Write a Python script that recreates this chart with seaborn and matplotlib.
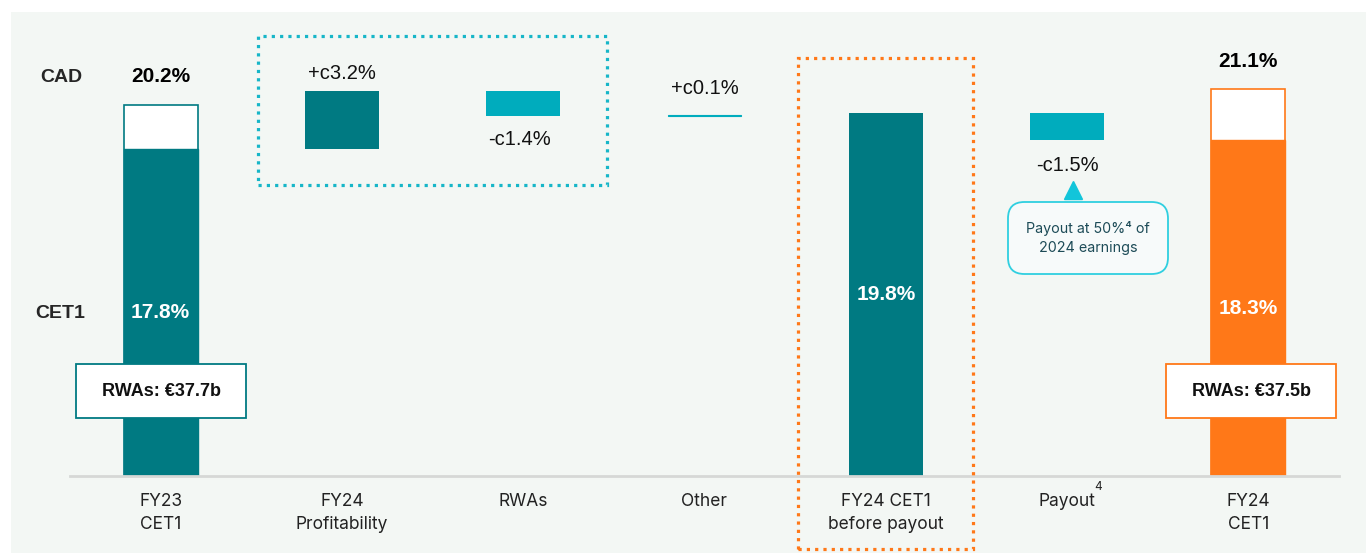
import matplotlib
matplotlib.use("Agg")
import matplotlib.pyplot as plt
from matplotlib.patches import Rectangle, FancyBboxPatch
import seaborn as sns
import pandas as pd

# ---------------- data ----------------
categories = ["FY23\nCET1", "FY24\nProfitability", "RWAs", "Other",
              "FY24 CET1\nbefore payout", "Payout", "FY24\nCET1"]
cet1_start = 17.8
cad_start = 20.2
profitability = 3.2
rwa_change = -1.4
other_change = 0.1
cet1_before_payout = 19.8
payout = -1.5
cet1_end = 18.3
cad_end = 21.1
rwas_start = 37.7
rwas_end = 37.5
change_labels = ["+c3.2%", "-c1.4%", "+c0.1%", "-c1.5%"]

# ---------------- style ----------------
TEAL = "#007a82"
CYAN = "#00acbd"
ORANGE = "#ff7818"
BG = "#f3f7f4"
BOX_CYAN = "#16b6c8"

sns.set_theme(style="white")
plt.rcParams["font.family"] = ["Liberation Sans", "DejaVu Sans"]

W, H = 1366, 553
fig = plt.figure(figsize=(W / 100, H / 100), dpi=100)
fig.patch.set_facecolor("white")


def P(x, y):
    return (x / W, 1 - y / H)


# panel background
fig.patches.append(Rectangle(P(11, 553), (W - 11) / W, (553 - 12) / H,
                             transform=fig.transFigure, facecolor=BG,
                             edgecolor="none", zorder=-10))

ax = fig.add_axes([70 / W, (553 - 476) / H, 1269 / W, 464 / H])
ax.set_facecolor("none")

BW = 0.408


def bar(i, bottom, height, **kw):
    d = pd.DataFrame({"cat": [categories[i]], "h": [height]})
    sns.barplot(data=d, x="cat", y="h", order=categories, bottom=bottom,
                width=BW, ax=ax, **kw)


# FY23: CAD outline + CET1 fill
bar(0, 0, cad_start, color="white", edgecolor=TEAL, linewidth=1.2, saturation=1)
bar(0, 0, cet1_start, color=TEAL, edgecolor=TEAL, linewidth=1.0, saturation=1)
# walk
lvl1 = cet1_start + profitability
bar(1, cet1_start, profitability, color=TEAL, saturation=1, linewidth=0)
lvl2 = lvl1 + rwa_change
bar(2, lvl2, -rwa_change, color=CYAN, saturation=1, linewidth=0)
bar(3, lvl2, other_change, color=TEAL, edgecolor=CYAN, linewidth=0.8, saturation=1)
bar(4, 0, cet1_before_payout, color=TEAL, saturation=1, linewidth=0)
bar(5, cet1_before_payout + payout, -payout, color=CYAN, saturation=1, linewidth=0)
bar(6, 0, cad_end, color="white", edgecolor=ORANGE, linewidth=1.2, saturation=1)
bar(6, 0, cet1_end, color=ORANGE, edgecolor=ORANGE, linewidth=1.0, saturation=1)

ax.set_xlim(-0.5, 6.5)
ax.set_ylim(0, 25.29)
ax.set_xlabel("")
ax.set_ylabel("")
ax.set_yticks([])
ax.set_xticks(range(len(categories)))
ax.set_xticklabels(categories, fontsize=12.5, color="#222222",
                   family=["Inter", "DejaVu Sans"], linespacing=1.5)
ax.tick_params(axis="x", length=0, pad=12)
for s in ["top", "left", "right"]:
    ax.spines[s].set_visible(False)
ax.spines["bottom"].set_color("#d6d8d6")
ax.spines["bottom"].set_linewidth(2)
ax.spines["bottom"].set_zorder(5)

# superscript on Payout tick
ax.annotate("4", (5, 0), xytext=(22, -8), textcoords="offset points",
            ha="center", va="center", fontsize=8.5, color="#222222",
            family=["Inter", "DejaVu Sans"])


def lab(i, y, txt, dy_px, dx_px=0, **kw):
    ax.annotate(txt, (i, y), xytext=(dx_px / 1.389, dy_px / 1.389),
                textcoords="offset points", ha="center", va="center", **kw)


lab(0, cad_start, f"{cad_start:.1f}%", 29, fontsize=15, fontweight="bold", color="black")
lab(6, cad_end, f"{cad_end:.1f}%", 27, fontsize=15, fontweight="bold", color="black")
lab(0, cet1_start / 2, f"{cet1_start:.1f}%", 0, fontsize=15, fontweight="bold", color="white")
lab(4, cet1_before_payout / 2, f"{cet1_before_payout:.1f}%", 0, fontsize=15,
    fontweight="bold", color="white")
lab(6, cet1_end / 2, f"{cet1_end:.1f}%", 0, fontsize=15, fontweight="bold", color="white")

lab(1, lvl1, change_labels[0], 17, fontsize=14.5, color="#111111")
lab(2, lvl2, change_labels[1], -23, dx_px=-4, fontsize=14.5, color="#111111")
lab(3, lvl2 + other_change, change_labels[2], 26, fontsize=14.5, color="#111111")
lab(5, cet1_before_payout + payout, change_labels[3], -25, fontsize=14.5, color="#111111")

# row labels
fig.text(*P(61, 78), "CAD", ha="center", va="center", fontsize=14, fontweight="bold")
fig.text(*P(60, 314), "CET1", ha="center", va="center", fontsize=14, fontweight="bold")

# RWAs boxes
for cx, col, val in [(161, TEAL, rwas_start), (1251, ORANGE, rwas_end)]:
    fig.patches.append(Rectangle(P(cx - 85, 418), 170 / W, 54 / H,
                                 transform=fig.transFigure, facecolor="white",
                                 edgecolor=col, linewidth=1.3, zorder=6))
    fig.text(*P(cx, 392), f"RWAs: €{val:.1f}b", ha="center", va="center",
             fontsize=13, fontweight="bold", color="#111111", zorder=7)

# dotted highlight boxes
fig.patches.append(Rectangle(P(258, 185), (607 - 258) / W, (185 - 36) / H,
                             transform=fig.transFigure, facecolor="none",
                             edgecolor=BOX_CYAN, linewidth=2.3,
                             linestyle=(0, (1, 1.6)), zorder=4))
fig.patches.append(Rectangle(P(798, 549), (973 - 798) / W, (549 - 58) / H,
                             transform=fig.transFigure, facecolor="none",
                             edgecolor=ORANGE, linewidth=2.3,
                             linestyle=(0, (1, 1.6)), zorder=4))

# payout callout
fig.patches.append(FancyBboxPatch(P(1008, 274), 160 / W, 72 / H,
                                  boxstyle="round,pad=0,rounding_size=0.012",
                                  transform=fig.transFigure, facecolor="#f7fafa",
                                  edgecolor="#2fcfe0", linewidth=1.3, zorder=4,
                                  mutation_aspect=W / H))
fig.text(*P(1088, 238), "Payout at 50%⁴ of\n2024 earnings", ha="center", va="center",
         fontsize=10.3, color="#1d4b57", linespacing=1.5,
         family=["Inter", "DejaVu Sans"], zorder=5)
fig.lines.append(plt.Line2D([1073 / W], [1 - 190 / H], transform=fig.transFigure,
                            marker="^", markersize=13, color="#12c5da",
                            linestyle="none"))

fig.savefig("out.png", dpi=100, facecolor=fig.get_facecolor())
